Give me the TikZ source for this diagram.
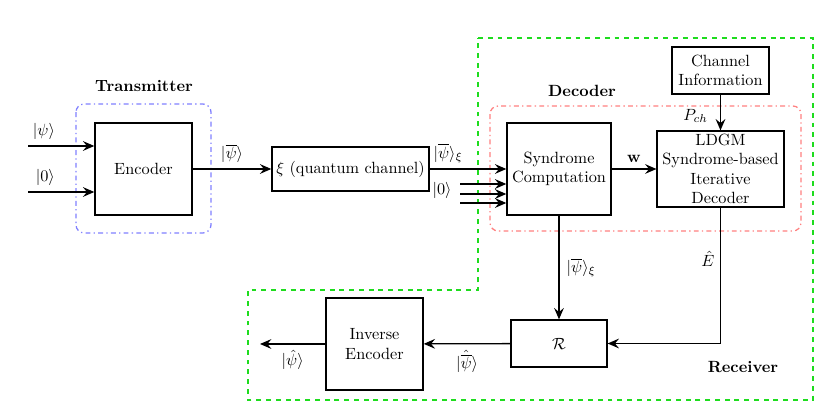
\documentclass[tikz,border=0pt]{standalone}
\usepackage{amsmath}
\usepackage{amssymb}
\usepackage{tikz}
\usetikzlibrary{arrows.meta}

\definecolor{rxgreen}{RGB}{30,220,30}
\tikzset{
  block/.style={draw,thick,align=center,inner sep=2pt},
  sig/.style={thick,-{Stealth[length=7pt,width=6pt,inset=2.5pt]}},
  txframe/.style={draw=blue!50,thick,dash dot,rounded corners=5pt},
  decframe/.style={draw=red!50,thick,dash dot,rounded corners=5pt},
  rxframe/.style={draw=rxgreen,thick,dashed}
}

\begin{document}
\begin{tikzpicture}[x=0.615pt,y=-0.615pt]
		\useasboundingbox (0,0) rectangle (830,415);
		% frames
		\draw[txframe] (76,104) rectangle (211,233);
		\draw[decframe] (490,106) rectangle (801,231);
		\draw[rxframe] (478,38) -- (813,38) -- (813,400) -- (248,400) -- (248,290) -- (478,290) -- cycle;
		\node[font=\bfseries] (txlbl) at (144,86) {Transmitter};
		\node[font=\bfseries] (declbl) at (582,91) {Decoder};
		\node[font=\bfseries] (rxlbl) at (743,367) {Receiver};

		% blocks
		\node[block,minimum width=59.7pt,minimum height=56.6pt] (enc) at (143.5,169) {Encoder};
		\node[block,minimum width=96.6pt,minimum height=27pt] (chan) at (350.5,169) {$\xi$ (quantum channel)};
		\node[block,minimum width=64pt,minimum height=56.6pt] (syn) at (559,169) {Syndrome\\Computation};
		\node[block,minimum width=78pt,minimum height=46.7pt,inner sep=0pt] (ldgm) at (720.5,169) {LDGM\\Syndrome-based\\Iterative\\Decoder};
		\node[block,minimum width=59.7pt,minimum height=28.9pt] (info) at (720.5,70.5) {Channel\\Information};
		\node[block,minimum width=59pt,minimum height=28.9pt] (rec) at (559,343.5) {$\mathcal{R}$};
		\node[block,minimum width=59.7pt,minimum height=56.6pt] (inv) at (374.5,344) {Inverse\\Encoder};

		% inputs
		\coordinate (psiin) at (28,146);
		\coordinate (zeroin) at (28,192);
		\coordinate (out) at (260,344);
		\draw[sig] (psiin) -- (psiin -| enc.west) node[pos=.24,above] {$|\psi\rangle$};
		\draw[sig] (zeroin) -- (zeroin -| enc.west) node[pos=.26,above] {$|0\rangle$};

		\draw[sig] (enc) -- (chan) node[midway,above] {$|\overline{\psi}\rangle$};
		\draw[sig] (chan) -- (syn) node[pos=.24,above] {$|\overline{\psi}\rangle_{\xi}$};
		\node (zerolbl) at (442,190) {$|0\rangle$};
		\foreach \i/\y in {1/184,2/194,3/203}{
			\coordinate (z\i) at (460,\y);
			\draw[sig] (z\i) -- (z\i -| syn.west);
		}

		\draw[sig] (syn) -- (ldgm) node[midway,above] {$\mathbf{w}$};
		\draw[sig] (info) -- (ldgm) node[pos=.6,left,xshift=-4pt] {$P_{ch}$};
		\draw[sig] (syn) -- (rec) node[midway,right,xshift=1pt] {$|\overline{\psi}\rangle_{\xi}$};
		\draw[sig] (ldgm.south) |- (rec.east) node[pos=.19,left] {$\hat{E}$};
		\draw[sig] (rec) -- (inv) node[midway,below] {$|\hat{\overline{\psi}}\rangle$};
		\draw[sig] (inv) -- (out) node[midway,below] {$|\hat{\psi}\rangle$};
\end{tikzpicture}
\end{document}
